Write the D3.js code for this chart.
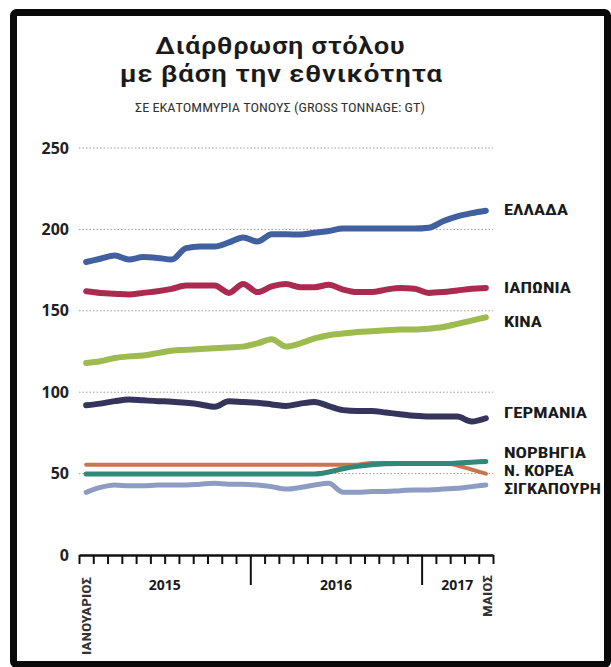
<!DOCTYPE html>
<html>
<head>
<meta charset="utf-8">
<script src="https://cdn.jsdelivr.net/npm/d3@7"></script>
<style>
  html, body { margin: 0; padding: 0; background: #fff; }
  svg { display: block; }
</style>
</head>
<body>
<svg id="chart" width="611" height="667"></svg>
<script>
// ---- Data (million GT), monthly Jan 2015 – May 2017 ----
const months = d3.range(29); // 0 = Jan 2015 ... 28 = May 2017
const greece    = [180,182,184,181.5,183,182.5,181.5,188.5,189.5,189.5,192,195,192.5,197,197,196.8,198,199,200.5,200.5,200.5,200.5,200.5,200.5,201,205,208,210,211.5];
const japan     = [162,161,160.5,160,161,162,163.5,165.5,165.5,165.5,161,166.5,161.5,165,166.5,164.5,164.5,166,163,161.5,161.5,163,164,163.5,161,161.5,162.5,163.5,164];
const china     = [118,119,121,122,122.5,124,125.5,126,126.5,127,127.5,128,130,132.5,128,130,133,135,136,137,137.5,138,138.5,138.5,139,140,142,144,146];
const germany   = [92,93,94.5,95.5,95,94.5,94.2,93.5,92.5,91,94.5,94,93.5,92.5,91.5,93,94,91.5,89,88.5,88.5,87.5,86.5,85.5,85,85,85,82,84];
const norway    = [49.8,49.8,49.8,49.8,49.8,49.8,49.8,49.8,49.8,49.8,49.8,49.8,49.8,49.8,49.8,49.8,49.8,51,53,54.5,55.5,56,56.2,56.2,56.2,56.2,56.5,57,57.5];
const korea     = [55.5,55.5,55.5,55.5,55.5,55.5,55.5,55.5,55.5,55.5,55.5,55.5,55.5,55.5,55.5,55.5,55.5,55.5,55.5,55.5,56.5,56.5,56.5,56.5,56.5,56.5,55,52.5,50];
const singapore = [38.5,41.5,43,42.5,42.5,43,43,43,43.5,44,43.5,43.5,43,42,40.5,41.5,43,44,38.5,38.5,39,39,39.5,40,40,40.5,41,42,43];

const seriesNames  = ["ΣΙΓΚΑΠΟΥΡΗ","Ν. ΚΟΡΕΑ","ΝΟΡΒΗΓΙΑ","ΓΕΡΜΑΝΙΑ","ΚΙΝΑ","ΙΑΠΩΝΙΑ","ΕΛΛΑΔΑ"];
const seriesValues = [singapore, korea, norway, germany, china, japan, greece];
const seriesColors = ["#8d9cc2","#c8764c","#2f8878","#34345c","#9dbb4f","#ab2a4f","#41609f"];
const seriesWidths = [5,4,5,6,6,6,6];

const yTicks = [0,50,100,150,200,250];
const gridTicks = [50,100,150,200,250];
const yearLabels = ["2015","2016","2017"];
const yearCenters = [6, 18, 26.5];      // in month units
const majorTicks = [12, 24];             // Jan 2016, Jan 2017

const title1 = "Διάρθρωση στόλου";
const title2 = "με βάση την εθνικότητα";
const subtitle = "ΣΕ ΕΚΑΤΟΜΜΥΡΙΑ ΤΟΝΟΥΣ (GROSS TONNAGE: GT)";
const startLabel = "ΙΑΝΟΥΑΡΙΟΣ";
const endLabel = "ΜΑΙΟΣ";

// label layout (baselines / lengths)
const labelY = {"ΕΛΛΑΔΑ":215,"ΙΑΠΩΝΙΑ":293,"ΚΙΝΑ":327,"ΓΕΡΜΑΝΙΑ":418,"ΝΟΡΒΗΓΙΑ":458,"Ν. ΚΟΡΕΑ":476,"ΣΙΓΚΑΠΟΥΡΗ":494};
const labelW = {"ΕΛΛΑΔΑ":64,"ΙΑΠΩΝΙΑ":67,"ΚΙΝΑ":38,"ΓΕΡΜΑΝΙΑ":83,"ΝΟΡΒΗΓΙΑ":82,"Ν. ΚΟΡΕΑ":70,"ΣΙΓΚΑΠΟΥΡΗ":97};

// ---- Drawing ----
const svg = d3.select("#chart");

// frame
svg.append("rect").attr("x", 13.5).attr("y", 12.5).attr("width", 594).attr("height", 652)
  .attr("fill", "#fff").attr("stroke", "#0a0a0a").attr("stroke-width", 7).attr("rx", 3);

const x = d3.scaleLinear().domain([0, 29]).range([79, 493]);
const y = d3.scaleLinear().domain([0, 250]).range([555, 148]);

const condensed = "'Roboto Condensed','Liberation Sans Narrow','Roboto','DejaVu Sans Condensed',sans-serif";

// titles
svg.append("text").attr("x", 280).attr("y", 54).attr("text-anchor", "middle")
  .attr("font-family", condensed).attr("font-weight", 500).attr("font-size", 23)
  .attr("fill", "#1a1a1a").attr("textLength", 250).attr("lengthAdjust", "spacingAndGlyphs").text(title1);
svg.append("text").attr("x", 281).attr("y", 82).attr("text-anchor", "middle")
  .attr("font-family", condensed).attr("font-weight", 500).attr("font-size", 23)
  .attr("fill", "#1a1a1a").attr("textLength", 323).attr("lengthAdjust", "spacingAndGlyphs").text(title2);
svg.append("text").attr("x", 280).attr("y", 112).attr("text-anchor", "middle")
  .attr("font-family", condensed).attr("font-size", 12.5)
  .attr("fill", "#333").attr("textLength", 290).attr("lengthAdjust", "spacingAndGlyphs").text(subtitle);

// gridlines
svg.append("g").selectAll("line").data(gridTicks).join("line")
  .attr("x1", 79).attr("x2", 493)
  .attr("y1", d => y(d)).attr("y2", d => y(d))
  .attr("stroke", "#9a9a9a").attr("stroke-width", 1).attr("stroke-dasharray", "1.5,2");

// y axis labels
const yAxis = d3.axisLeft(y).tickValues(yTicks).tickSize(0).tickPadding(0).tickFormat(d3.format("d"));
const gy = svg.append("g").attr("transform", "translate(69,0)").call(yAxis);
gy.select(".domain").remove();
gy.selectAll("text").attr("font-family", "'Open Sans','DejaVu Sans',sans-serif").attr("font-weight", 700)
  .attr("font-size", 16).attr("fill", "#222");

// lines
const line = d3.line().x((d, i) => x(i + 0.5)).y(d => y(d)).curve(d3.curveMonotoneX);
svg.append("g").selectAll("path").data(seriesValues).join("path")
  .attr("d", d => line(d))
  .attr("fill", "none")
  .attr("stroke", (d, i) => seriesColors[i])
  .attr("stroke-width", (d, i) => seriesWidths[i])
  .attr("stroke-linecap", "round").attr("stroke-linejoin", "round");

// series labels
svg.append("g").selectAll("text").data(seriesNames).join("text")
  .attr("x", 504).attr("y", d => labelY[d])
  .attr("font-family", condensed).attr("font-weight", 700).attr("font-size", 14)
  .attr("fill", "#1a1a1a")
  .attr("textLength", d => labelW[d]).attr("lengthAdjust", "spacingAndGlyphs")
  .text(d => d);

// x axis
const xAxis = d3.axisBottom(x).tickValues(d3.range(0, 30)).tickSize(9).tickSizeOuter(0).tickFormat("");
const gx = svg.append("g").attr("transform", "translate(0,555)").call(xAxis);
gx.select(".domain").attr("stroke", "#111").attr("stroke-width", 2.5);
gx.selectAll(".tick line").attr("stroke", "#111").attr("stroke-width", 2)
  .attr("y2", d => majorTicks.includes(d) ? 30 : 9);

// year labels
svg.append("g").selectAll("text").data(yearLabels).join("text")
  .attr("x", (d, i) => x(yearCenters[i])).attr("y", 590)
  .attr("text-anchor", "middle")
  .attr("font-family", "'Open Sans','DejaVu Sans',sans-serif").attr("font-weight", 700)
  .attr("font-size", 14).attr("fill", "#1a1a1a").text(d => d);

// rotated start / end labels
svg.append("text").attr("transform", `translate(${x(0) + 12},577) rotate(-90)`)
  .attr("text-anchor", "end")
  .attr("font-family", condensed).attr("font-weight", 700).attr("font-size", 12)
  .attr("fill", "#333").attr("textLength", 78).attr("lengthAdjust", "spacingAndGlyphs").text(startLabel);
svg.append("text").attr("transform", `translate(${x(29) - 1},575) rotate(-90)`)
  .attr("text-anchor", "end")
  .attr("font-family", condensed).attr("font-weight", 700).attr("font-size", 12)
  .attr("fill", "#333").attr("textLength", 42).attr("lengthAdjust", "spacingAndGlyphs").text(endLabel);
</script>
</body>
</html>
